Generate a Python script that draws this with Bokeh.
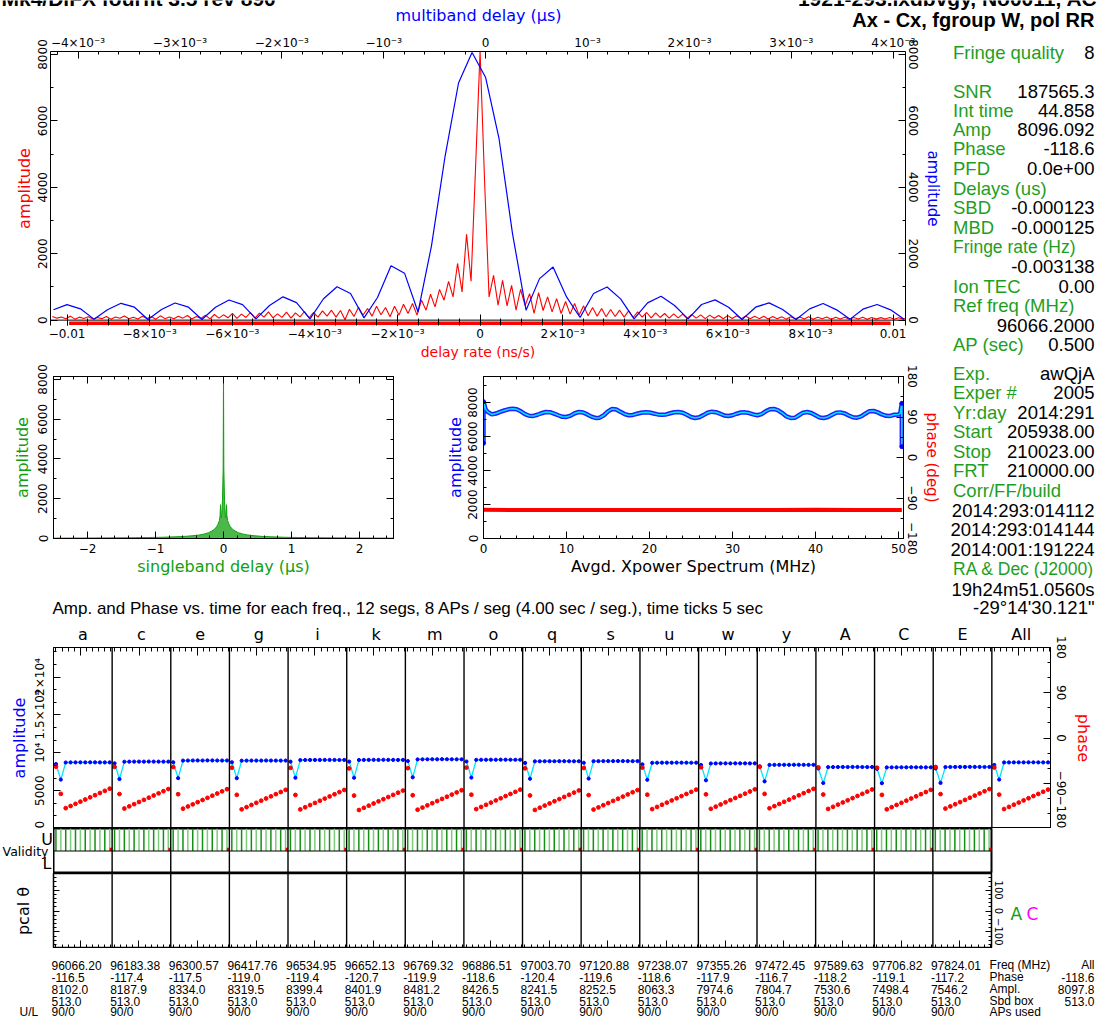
import math
from bokeh.plotting import figure
from bokeh.models import Range1d, LinearAxis, FixedTicker, Span
from bokeh.core.properties import value
from bokeh.layouts import column, row
from bokeh.embed import file_html
from bokeh.resources import INLINE

# ======================= DATA =======================
title_left = "Mk4/DiFX fourfit 3.5 rev 890"
title_right = "1921-293.ixdbvgy, No0011, AC"
title_baseline = "Ax - Cx, fgroup W, pol RR"

# multiband delay function (blue), 64-point grid
mbd_start = -0.004241
mbd_step = 0.0001325
mbd_amp = [312, 468, 341, 30, 312, 507, 390, 20, 322, 517, 390, 20, 390, 605, 468, 40,
           440, 702, 527, 40, 644, 1005, 800, 68, 683, 1640, 1415, 244, 2244, 4927, 7141, 8060,
           7317, 5463, 2600, 300, 1250, 1600, 700, 80, 800, 1000, 640, 40, 520, 720, 440, 40,
           470, 610, 390, 20, 390, 520, 320, 20, 340, 500, 310, 30, 340, 470, 310, 30]

# delay-rate function (red)
rate_step = 0.000109
rate_amp_far_left = [110, 60, 95, 40, 120, 30, 90, 50, 105, 35, 80, 45, 110, 30, 95, 55, 125, 40,
                     90, 35, 115, 50, 100, 30, 130, 45, 95, 40, 120, 60, 140, 35, 110, 50, 150, 40]
rate_amp_mid_left = [170, 60, 160, 70, 200, 55, 180, 80, 230, 60, 210, 90, 250, 70, 190, 85,
                     240, 60, 220, 100, 260, 70, 230, 90]
rate_amp_near_left = [280, 120, 300, 90, 290, 10, 330, 110, 390, 150, 350, 120, 420, 160, 380, 100]
rate_amp_close_left = [420, 150, 480, 200, 500, 150, 600, 300, 780, 400, 927, 600, 1170, 700,
                       1707, 850, 2585, 1170, 4600]
rate_amp_peak = 8096
rate_amp_right_1 = [4200, 700, 1350, 450, 1200, 430, 1050, 300, 930, 440, 800, 200, 830, 290,
                    700, 250, 650, 200, 560, 180]
rate_amp_right_2 = [500, 150, 430, 130, 380, 120, 350, 100, 320, 110, 300, 90, 280, 80, 250, 90,
                    230, 70, 220, 80]
rate_amp_right_3 = [200, 60, 190, 70, 180, 50, 170, 60, 160, 45, 150, 55, 140, 40, 135, 50,
                    130, 45, 125, 40]
rate_amp_right_4 = [120, 45, 115, 35, 110, 40, 105, 30, 100, 40, 95, 35, 100, 30, 90, 40, 95,
                    30, 85, 35]
rate_amp_right_5 = [90, 30, 80, 35, 85, 25, 80, 30, 75, 35, 80, 25, 70, 30, 60]
rate_window = [-0.00995, 0.00994]

# singleband delay function (green)
sbd_delay = [-2.5, -2.2, -1.9, -1.6, -1.3, -1.1, -0.9, -0.7, -0.55, -0.45, -0.35, -0.28, -0.22,
             -0.17, -0.13, -0.10, -0.08, -0.06, -0.05, -0.044, -0.035, -0.025, -0.015, -0.005,
             0.0, 0.005, 0.015, 0.025, 0.035, 0.044, 0.05, 0.06, 0.08, 0.10, 0.13, 0.17, 0.22,
             0.28, 0.35, 0.45, 0.55, 0.7, 0.9, 1.1, 1.3, 1.6, 1.9, 2.2, 2.5]
sbd_amp = [18, 22, 26, 32, 40, 50, 62, 85, 110, 140, 180, 230, 290, 380, 470, 600, 720, 900,
           1150, 1700, 1050, 1200, 1900, 3500, 8096, 3500, 1900, 1200, 1050, 1700, 1150, 900,
           720, 600, 470, 380, 290, 230, 180, 140, 110, 85, 62, 50, 40, 32, 26, 22, 18]

# averaged cross-power spectrum
xp_edge_lo_freq = [0.0, 0.0, 0.25]
xp_edge_lo_amp = [5600, 8050, 7600]
xp_step = 0.5
xp_amp = [7450, 7300, 7350, 7450, 7530, 7600, 7630, 7600, 7480, 7320,
          7220, 7210, 7280, 7370, 7440, 7430, 7350, 7250, 7160, 7150,
          7230, 7370, 7440, 7410, 7300, 7170, 7090, 7110, 7250, 7480,
          7620, 7590, 7450, 7320, 7250, 7270, 7340, 7400, 7430, 7410,
          7350, 7300, 7280, 7300, 7370, 7430, 7440, 7400, 7280, 7150,
          7090, 7130, 7260, 7400, 7460, 7430, 7340, 7240, 7210, 7250,
          7340, 7410, 7420, 7380, 7300, 7250, 7320, 7480, 7600, 7620,
          7540, 7380, 7180, 7090, 7100, 7250, 7400, 7440, 7380, 7250,
          7120, 7090, 7150, 7280, 7400, 7420, 7360, 7240, 7130, 7110,
          7180, 7340, 7490, 7500, 7420, 7300, 7220, 7210, 7280, 7300]
xp_edge_hi_freq = [50.2, 50.4, 50.4]
xp_edge_hi_amp = [7350, 7950, 5400]
xp_phase_freq = [0, 5, 10, 15, 20, 25, 30, 35, 40, 45, 50.4]
xp_phase = [-116.3, -116.6, -116.4, -116.5, -116.7, -116.4, -116.5, -116.6, -116.3, -116.5, -116.4]

# per-channel amplitude / phase vs time
chan_labels = ["a", "c", "e", "g", "i", "k", "m", "o", "q", "s", "u", "w", "y", "A", "C", "E", "All"]
seg_time = [2, 6, 10, 14, 18, 22, 26, 30, 34, 38, 42, 46]
chan_span = 48
minute_tick = 22
seg_amp = [
    [8510, 6460, 8715, 8725, 8730, 8735, 8730, 8740, 8735, 8730, 8725, 8730],
    [8610, 6530, 8815, 8825, 8830, 8835, 8830, 8840, 8835, 8830, 8825, 8830],
    [8750, 6650, 8965, 8975, 8980, 8985, 8980, 8990, 8985, 8980, 8975, 8980],
    [8745, 6640, 8955, 8965, 8970, 8975, 8970, 8980, 8975, 8970, 8965, 8970],
    [8825, 6700, 9035, 9045, 9050, 9055, 9050, 9060, 9055, 9050, 9045, 9050],
    [8835, 6700, 9045, 9055, 9060, 9065, 9060, 9070, 9065, 9060, 9055, 9060],
    [8910, 6760, 9125, 9135, 9140, 9145, 9140, 9150, 9145, 9140, 9135, 9140],
    [8850, 6720, 9065, 9075, 9080, 9085, 9080, 9090, 9085, 9080, 9075, 9080],
    [8660, 6570, 8865, 8875, 8880, 8885, 8880, 8890, 8885, 8880, 8875, 8880],
    [8680, 6590, 8885, 8895, 8900, 8905, 8900, 8910, 8905, 8900, 8895, 8900],
    [8470, 6430, 8675, 8685, 8690, 8695, 8690, 8700, 8695, 8690, 8685, 8690],
    [8385, 6360, 8585, 8595, 8600, 8605, 8600, 8610, 8605, 8600, 8595, 8600],
    [8200, 6220, 8395, 8405, 8410, 8415, 8410, 8420, 8415, 8410, 8405, 8410],
    [7920, 6010, 8105, 8115, 8120, 8125, 8120, 8130, 8125, 8120, 8115, 8120],
    [7880, 5980, 8065, 8075, 8080, 8085, 8080, 8090, 8085, 8080, 8075, 8080],
    [7930, 6020, 8115, 8125, 8130, 8135, 8130, 8140, 8135, 8130, 8125, 8130],
    [8390, 6460, 8720, 8725, 8730, 8735, 8730, 8740, 8735, 8730, 8725, 8730],
]
seg_phase = [
    [-57.0, -111.0, -139.5, -135.2, -130.9, -126.6, -122.3, -118.0, -113.7, -109.4, -105.1, -100.8],
    [-57.5, -111.5, -140.2, -135.9, -131.6, -127.3, -123.0, -118.7, -114.4, -110.1, -105.8, -101.5],
    [-57.8, -111.8, -140.5, -136.2, -131.9, -127.6, -123.3, -119.0, -114.7, -110.4, -106.1, -101.8],
    [-59.0, -113.0, -141.8, -137.5, -133.2, -128.9, -124.6, -120.3, -116.0, -111.7, -107.4, -103.1],
    [-59.4, -113.3, -142.0, -137.7, -133.4, -129.1, -124.8, -120.5, -116.2, -111.9, -107.6, -103.3],
    [-60.5, -114.5, -143.2, -138.9, -134.6, -130.3, -126.0, -121.7, -117.4, -113.1, -108.8, -104.5],
    [-60.0, -113.9, -142.6, -138.3, -134.0, -129.7, -125.4, -121.1, -116.8, -112.5, -108.2, -103.9],
    [-58.8, -112.7, -141.4, -137.1, -132.8, -128.5, -124.2, -119.9, -115.6, -111.3, -107.0, -102.7],
    [-60.3, -114.3, -143.0, -138.7, -134.4, -130.1, -125.8, -121.5, -117.2, -112.9, -108.6, -104.3],
    [-59.7, -113.6, -142.3, -138.0, -133.7, -129.4, -125.1, -120.8, -116.5, -112.2, -107.9, -103.6],
    [-58.8, -112.7, -141.4, -137.1, -132.8, -128.5, -124.2, -119.9, -115.6, -111.3, -107.0, -102.7],
    [-58.2, -112.1, -140.8, -136.5, -132.2, -127.9, -123.6, -119.3, -115.0, -110.7, -106.4, -102.1],
    [-57.2, -111.1, -139.8, -135.5, -131.2, -126.9, -122.6, -118.3, -114.0, -109.7, -105.4, -101.1],
    [-58.4, -112.4, -141.1, -136.8, -132.5, -128.2, -123.9, -119.6, -115.3, -111.0, -106.7, -102.4],
    [-59.2, -113.1, -141.8, -137.5, -133.2, -128.9, -124.6, -120.3, -116.0, -111.7, -107.4, -103.1],
    [-57.7, -111.6, -140.3, -136.0, -131.7, -127.4, -123.1, -118.8, -114.5, -110.2, -105.9, -101.6],
    [-58.6, -112.6, -141.3, -137.0, -132.7, -128.4, -124.1, -119.8, -115.5, -111.2, -106.9, -102.6],
]

# summary table
freq_mhz = [96066.20, 96183.38, 96300.57, 96417.76, 96534.95, 96652.13, 96769.32, 96886.51,
            97003.70, 97120.88, 97238.07, 97355.26, 97472.45, 97589.63, 97706.82, 97824.01]
tab_phase = [-116.5, -117.4, -117.5, -119.0, -119.4, -120.7, -119.9, -118.6,
             -120.4, -119.6, -118.6, -117.9, -116.7, -118.2, -119.1, -117.2]
tab_amp = [8102.0, 8187.9, 8334.0, 8319.5, 8399.4, 8401.9, 8481.2, 8426.5,
           8241.5, 8252.5, 8063.3, 7974.6, 7804.7, 7530.6, 7498.4, 7546.2]
tab_sbd_box = ["513.0"] * 16
tab_aps = ["90/0"] * 16
tab_row_names = ["Freq (MHz)", "Phase", "Ampl.", "Sbd box", "APs used"]
tab_all = ["All", "-118.6", "8097.8", "513.0", ""]

# fringe summary text
stat_lines = [
    ("Fringe quality", "8"), ("SNR", "187565.3"), ("Int time", "44.858"), ("Amp", "8096.092"),
    ("Phase", "-118.6"), ("PFD", "0.0e+00"), ("Delays (us)", ""), ("SBD", "-0.000123"),
    ("MBD", "-0.000125"), ("Fringe rate (Hz)", ""), ("", "-0.003138"), ("Ion TEC", "0.00"),
    ("Ref freq (MHz)", ""), ("", "96066.2000"), ("AP (sec)", "0.500"), ("Exp.", "awQjA"),
    ("Exper #", "2005"), ("Yr:day", "2014:291"), ("Start", "205938.00"), ("Stop", "210023.00"),
    ("FRT", "210000.00"), ("Corr/FF/build", ""), ("", "2014:293:014112"), ("", "2014:293:014144"),
    ("", "2014:001:191224"), ("RA & Dec (J2000)", ""), ("", "19h24m51.0560s"),
    ("", "-29\u00b014'30.121\""),
]
chan_title = "Amp. and Phase vs. time for each freq., 12 segs, 8 APs / seg (4.00 sec / seg.), time ticks 5 sec"

# ======================= STYLE / LAYOUT =======================
RED = "#ff0000"
BLUE = "#0000ff"
GREEN = "#1e9e1e"
SBDGREEN = "#10a010"
CYAN = "#00e5ff"
MAG = "#ff00ff"
AXF = "DejaVu Sans"
TXF = "Liberation Sans"
RIGHT_X = 1094
stat_y = [51.5, 90.7, 109.5, 129, 148.3, 168, 187.5, 207, 226.7, 246.5, 266, 285.5, 305, 324.5,
          343.5, 373, 392.3, 411.7, 431, 450.7, 470, 489.7, 509.5, 529, 548.7, 568, 589, 606.5]


def make(frame, top, bottom, left, right, xr, yr):
    fl, ft, fr, fb = frame
    p = figure(width=right - left, height=bottom - top, x_range=xr, y_range=yr,
               output_backend="svg", toolbar_location=None, title=None,
               x_axis_location=None, y_axis_location=None,
               min_border_left=fl - left, min_border_right=right - fr,
               min_border_top=ft - top, min_border_bottom=bottom - fb)
    p.frame_align = False
    p.outline_line_color = "black"
    p.outline_line_width = 1
    p.background_fill_color = "white"
    p.border_fill_color = "white"
    p.xgrid.visible = False
    p.ygrid.visible = False
    return p


def text_fig(left, top, right, bottom):
    p = make((left, top, right, bottom), top, bottom, left, right,
             Range1d(left, right), Range1d(bottom, top))
    p.outline_line_color = None
    return p


def txt(p, xs, ys, texts, color="black", size="18.5px", font=TXF, align="left", style="normal"):
    p.text(x=list(xs), y=list(ys), text=list(texts), text_color=color, text_font=value(font),
           text_font_size=size, text_align=align, text_baseline="middle", text_font_style=style)


def axis(ticks, minor=(), labels=None, range_name=None, vertical=False, size="12px",
         rotate=False, standoff=3, title=None, title_color="black", title_size="16px",
         title_standoff=3, tick_in=7, minor_in=3, line=True):
    kw = {}
    if range_name:
        kw["y_range_name" if vertical else "x_range_name"] = range_name
    ax = LinearAxis(ticker=FixedTicker(ticks=list(ticks), minor_ticks=list(minor)), **kw)
    if labels is not None:
        ax.major_label_overrides = {t: s for t, s in zip(ticks, labels)}
    ax.major_tick_in = tick_in
    ax.major_tick_out = 0
    ax.minor_tick_in = minor_in
    ax.minor_tick_out = 0
    ax.major_tick_line_color = "black"
    ax.minor_tick_line_color = "black"
    ax.axis_line_color = "black" if line else None
    ax.major_label_text_font = AXF
    ax.major_label_text_color = "black"
    ax.major_label_text_font_size = size
    ax.major_label_standoff = standoff
    if rotate:
        ax.major_label_orientation = "vertical"
    if title:
        ax.axis_label = title
        ax.axis_label_text_color = title_color
        ax.axis_label_text_font = AXF
        ax.axis_label_text_font_style = "normal"
        ax.axis_label_text_font_size = title_size
        ax.axis_label_standoff = title_standoff
    return ax


def tick_axes(p, side, major, minor, major_len=7, minor_len=3, range_name=None,
              title=None, title_standoff=3):
    """Unlabelled frame ticks: two label-free axes (long and short ticks)."""
    vertical = side in ("left", "right")
    long_ax = axis([], major, range_name=range_name, vertical=vertical, standoff=0,
                   tick_in=0, minor_in=major_len)
    p.add_layout(long_ax, side)
    short_ax = axis([], minor, range_name=range_name, vertical=vertical, standoff=0,
                    tick_in=0, minor_in=minor_len, line=False, title=title,
                    title_standoff=title_standoff)
    p.add_layout(short_ax, side)


L_PAGE, R_PAGE = 0, 1098
MID_R = 945

# ---------------- header ----------------
H_top, H_bot = 0, 32
pH = text_fig(L_PAGE, H_top, R_PAGE, H_bot)
txt(pH, [1], [-2], [title_left], size="21px", style="bold")
txt(pH, [1097], [-2], [title_right], size="21px", style="bold", align="right")
txt(pH, [RIGHT_X], [19.5], [title_baseline], size="20px", style="bold", align="right")
txt(pH, [478], [15], ["multiband delay (\u03bcs)"], color=BLUE, size="16px", font=AXF, align="center")

# ---------------- top panel: delay-rate & multiband delay ----------------
T_F = (50, 49, 905, 330)
T_bot = 362
t_zero_px = 324.5
t_ylo = -8090 * (T_F[3] - t_zero_px) / (t_zero_px - T_F[1])
t_win_y = -8090 * (327.8 - t_zero_px) / (t_zero_px - T_F[1])
pT = make(T_F, H_bot, T_bot, L_PAGE, MID_R, Range1d(-0.0104, 0.0103), Range1d(t_ylo, 8090))
pT.extra_x_ranges = {"mbd": Range1d(-0.00427, 0.00412)}
pT.outline_line_color = None

rate_ticks = [-0.01, -0.008, -0.006, -0.004, -0.002, 0.0, 0.002, 0.004, 0.006, 0.008, 0.01]
rate_tlab = ["\u22120.01", "\u22128\u00d710\u207b\u00b3", "\u22126\u00d710\u207b\u00b3",
             "\u22124\u00d710\u207b\u00b3", "\u22122\u00d710\u207b\u00b3", "0",
             "2\u00d710\u207b\u00b3", "4\u00d710\u207b\u00b3", "6\u00d710\u207b\u00b3",
             "8\u00d710\u207b\u00b3", "0.01"]
rate_minor = [round(-0.01 + 0.0005 * i, 6) for i in range(41)]
pT.add_layout(axis(rate_ticks, rate_minor, rate_tlab, standoff=1, title="delay rate (ns/s)",
                   title_color=RED, title_size="14px", title_standoff=0, tick_in=11, minor_in=7,
                   line=False), "below")
mbd_ticks = [-0.004, -0.003, -0.002, -0.001, 0.0, 0.001, 0.002, 0.003, 0.004]
mbd_tlab = ["\u22124\u00d710\u207b\u00b3", "\u22123\u00d710\u207b\u00b3", "\u22122\u00d710\u207b\u00b3",
            "\u221210\u207b\u00b3", "0", "10\u207b\u00b3", "2\u00d710\u207b\u00b3",
            "3\u00d710\u207b\u00b3", "4\u00d710\u207b\u00b3"]
mbd_minor = [round(-0.0042 + 0.0002 * i, 6) for i in range(42)]
pT.add_layout(axis(mbd_ticks, mbd_minor, mbd_tlab, range_name="mbd", standoff=2), "above")
amp_ticks = [0, 2000, 4000, 6000, 8000]
amp_tlab = ["0", "2000", "4000", "6000", "8000"]
amp_minor = [1000, 3000, 5000, 7000]
pT.add_layout(axis(amp_ticks, amp_minor, amp_tlab, vertical=True, rotate=True,
                   standoff=3, title="amplitude", title_color=RED, title_standoff=2), "left")
pT.add_layout(axis(amp_ticks, amp_minor, amp_tlab, vertical=True, rotate=True,
                   standoff=3, title="amplitude", title_color=BLUE, title_size="15px",
                   title_standoff=3), "right")
pT.add_layout(Span(location=0, dimension="width", line_color="black", line_width=1))

mbd_x = [mbd_start + i * mbd_step for i in range(len(mbd_amp))]
rate_left = rate_amp_far_left + rate_amp_mid_left + rate_amp_near_left + rate_amp_close_left
rate_right = rate_amp_right_1 + rate_amp_right_2 + rate_amp_right_3 + rate_amp_right_4 + rate_amp_right_5
rate_amp = rate_left + [rate_amp_peak] + rate_right
rate_x = [(i - len(rate_left)) * rate_step for i in range(len(rate_amp))]
pT.line(rate_x, rate_amp, line_color=RED, line_width=1.1)
pT.line(mbd_x, mbd_amp, x_range_name="mbd", line_color=BLUE, line_width=1.2)
pT.line(rate_window, [t_win_y, t_win_y], line_color=RED, line_width=3.5)

# ---------------- middle left: singleband delay ----------------
R2_bot = 578
S_F = (53, 376, 393, 538)
pS = make(S_F, T_bot, R2_bot, L_PAGE, 440, Range1d(-2.5, 2.5), Range1d(0, 8146))
sbd_ticks = [-2, -1, 0, 1, 2]
sbd_minor = [round(-2.4 + 0.2 * i, 2) for i in range(25)]
pS.add_layout(axis(sbd_ticks, sbd_minor, ["\u22122", "\u22121", "0", "1", "2"], standoff=5,
                   title="singleband delay (\u03bcs)", title_color=SBDGREEN, title_standoff=1), "below")
tick_axes(pS, "above", sbd_ticks, sbd_minor)
pS.add_layout(axis(amp_ticks, amp_minor, amp_tlab, vertical=True, rotate=True,
                   standoff=6, title="amplitude", title_color=SBDGREEN, title_standoff=4), "left")
tick_axes(pS, "right", amp_ticks, amp_minor)
pS.varea(x=sbd_delay, y1=[0] * len(sbd_amp), y2=sbd_amp, fill_color=SBDGREEN, fill_alpha=0.75)
pS.line(sbd_delay, sbd_amp, line_color=SBDGREEN, line_width=1)

# ---------------- middle right: cross-power spectrum ----------------
X_F = (483, 376, 903, 538)
pX = make(X_F, T_bot, R2_bot, 440, MID_R, Range1d(0, 50.6), Range1d(0, 9530))
pX.extra_y_ranges = {"ph": Range1d(-180, 180)}
xp_ticks = [0, 10, 20, 30, 40, 50]
xp_minor = list(range(0, 51, 2))
pX.add_layout(axis(xp_ticks, xp_minor, ["0", "10", "20", "30", "40", "50"], standoff=5,
                   title="Avgd. Xpower Spectrum (MHz)", title_standoff=1), "below")
tick_axes(pX, "above", xp_ticks, xp_minor)
pX.add_layout(axis(amp_ticks, amp_minor + [9000], amp_tlab, vertical=True, rotate=True,
                   standoff=6, title="amplitude", title_color=BLUE, title_standoff=1), "left")
ph_ticks = [-180, -90, 0, 90, 180]
ph_tlab = ["\u2212180", "\u221290", "0", "90", "180"]
pX.add_layout(axis(ph_ticks, [-135, -45, 45, 135], ph_tlab, range_name="ph", vertical=True,
                   rotate=True, standoff=4, title="phase (deg)", title_color=RED,
                   title_size="15px", title_standoff=3), "right")
xp_f = xp_edge_lo_freq + [xp_step * (i + 1) for i in range(len(xp_amp))] + xp_edge_hi_freq
xp_a = xp_edge_lo_amp + xp_amp + xp_edge_hi_amp
pX.line(xp_f, xp_a, line_color="#2020ff", line_width=4.5)
pX.line(xp_f, xp_a, line_color=CYAN, line_width=1.5)
pX.scatter(xp_edge_lo_freq[:2] + xp_edge_hi_freq[1:], xp_edge_lo_amp[:2] + xp_edge_hi_amp[1:],
           size=4, color=BLUE)
pX.line(xp_phase_freq, xp_phase, y_range_name="ph", line_color=RED, line_width=4)

# ---------------- stats column ----------------
pR = text_fig(MID_R, H_bot, R_PAGE, R2_bot)
pH2_top, H2_bot = R2_bot, 621
pH2 = text_fig(L_PAGE, pH2_top, R_PAGE, H2_bot)
for (name, val), yy in zip(stat_lines, stat_y):
    target = pR if yy < R2_bot else pH2
    if name:
        txt(target, [952.5], [yy], [name], color=GREEN, size="17.5px" if len(name) > 14 else "18.5px")
    if val:
        txt(target, [RIGHT_X], [yy], [val], align="right")
txt(pH2, [52], [607.5], [chan_title], size="17px")

# ---------------- channel amp/phase panel ----------------
n_ch = len(chan_labels)
C1_F = (53, 644, 1050, 828)
pC1 = make(C1_F, H2_bot, C1_F[3], L_PAGE, R_PAGE, Range1d(0, chan_span * n_ch), Range1d(0, 23900))
pC1.extra_y_ranges = {"ph": Range1d(-180, 180)}
time_major = [chan_span * k + minute_tick for k in range(n_ch)]
time_minor = [chan_span * k + 2 + 5 * j for k in range(n_ch) for j in range(10)]
tick_axes(pC1, "above", time_major, time_minor, major_len=8, minor_len=4)
pC1.add_layout(axis([chan_span * k + chan_span / 2 for k in range(n_ch)], [], chan_labels,
                    size="16px", standoff=4, tick_in=0, minor_in=0, line=False), "above")
c_amp_ticks = [0, 5000, 10000, 15000, 20000]
c_amp_lab = ["0", "5000", "10\u2074", "1.5\u00d710\u2074", "2\u00d710\u2074"]
c_amp_minor = [round(5000 * k / 3) for k in range(15)]
pC1.add_layout(axis(c_amp_ticks, c_amp_minor, c_amp_lab, vertical=True, rotate=True, standoff=6,
                    title="amplitude", title_color=BLUE, title_standoff=2), "left")
pC1.add_layout(axis(ph_ticks, [-150, -120, -60, -30, 30, 60, 120, 150], ph_tlab, range_name="ph",
                    vertical=True, rotate=True, standoff=6, title="phase", title_color=RED,
                    title_standoff=5), "right")
seg_xs = [[chan_span * k + t for t in seg_time] for k in range(n_ch)]
pC1.multi_line(seg_xs, seg_amp, line_color=CYAN, line_width=1.3)
flat_x = [x for xs in seg_xs for x in xs]
flat_amp = [a for row_ in seg_amp for a in row_]
flat_ph = [a for row_ in seg_phase for a in row_]
pC1.scatter(flat_x, flat_amp, size=3.2, color=BLUE)
pC1.scatter(flat_x, flat_ph, y_range_name="ph", size=3.8, color=RED)
for k in range(1, n_ch):
    pC1.add_layout(Span(location=chan_span * k, dimension="height", line_color="black", line_width=1.4))

# ---------------- validity ----------------
n_val = n_ch - 1
C2_F = (53, 828, 991, 873)
pV = text_fig(L_PAGE, C2_F[1], C2_F[0], C2_F[3])
txt(pV, [46.5, 46.5], [838.5, 862.5], ["U", "L"], size="16px", font=AXF, align="center")
txt(pV, [48], [851], ["Validity"], size="12.5px", font=AXF, align="right")
pC2 = make(C2_F, C2_F[1], C2_F[3], C2_F[0], R_PAGE, Range1d(0, chan_span * n_val), Range1d(0, 2))
pC2.outline_line_width = 2
val_x = [chan_span * k + t for k in range(n_val) for t in seg_time]
val_col = ["#139013" if (j % 2 == 0) else "#7ccc7c" for k in range(n_val) for j in range(len(seg_time))]
pC2.segment(x0=val_x, y0=[1] * len(val_x), x1=val_x, y1=[2] * len(val_x), line_color=val_col, line_width=1.5)
flag_x = [chan_span * k + 47 for k in range(n_val)]
pC2.segment(x0=flag_x, y0=[1] * n_val, x1=flag_x, y1=[1.14] * n_val, line_color=RED, line_width=2.5)
pC2.add_layout(Span(location=1, dimension="width", line_color="black", line_width=1.2))
for k in range(1, n_val):
    pC2.add_layout(Span(location=chan_span * k, dimension="height", line_color="black", line_width=1.4))

# ---------------- pcal ----------------
C3_F = (53, 873, 991, 948)
C3_R = 1008
pC3 = make(C3_F, C3_F[1], C3_F[3], L_PAGE, C3_R, Range1d(0, chan_span * n_val), Range1d(-180, 180))
pC3.outline_line_width = 1.5
tick_axes(pC3, "below", [chan_span * k + minute_tick for k in range(n_val)],
          [chan_span * k + 2 + 5 * j for k in range(n_val) for j in range(10)], major_len=8, minor_len=4)
pcal_minor = list(range(-160, 161, 20))
tick_axes(pC3, "left", [-100, 0, 100], pcal_minor, major_len=6, minor_len=3,
          title="pcal \u03b8", title_standoff=21)
pC3.add_layout(axis([-100, 0, 100], pcal_minor, ["\u2212100", "0", "100"], vertical=True,
                    rotate=True, size="10px", standoff=3, tick_in=6, minor_in=3), "right")
for k in range(1, n_val):
    pC3.add_layout(Span(location=chan_span * k, dimension="height", line_color="black", line_width=1.4))
pAC = text_fig(C3_R, C3_F[1], R_PAGE, C3_F[3])
txt(pAC, [1010], [913], ["A"], color="#10a010", size="17px", font=AXF)
txt(pAC, [1026], [913], ["C"], color=MAG, size="17px", font=AXF)

# ---------------- table ----------------
TB_bot = 1020
pTB = text_fig(L_PAGE, C3_F[3], R_PAGE, TB_bot)
tab_x0, tab_dx = 51, 58.63
tab_y = [964.5, 976.5, 988.5, 1000.5, 1011.5]
tab_rows = [["%.2f" % f for f in freq_mhz], ["%.1f" % v for v in tab_phase],
            ["%.1f" % v for v in tab_amp], tab_sbd_box, tab_aps]
for r, (vals, yy) in enumerate(zip(tab_rows, tab_y)):
    txt(pTB, [tab_x0 + k * tab_dx for k in range(len(vals))], [yy] * len(vals), vals, size="12px")
    txt(pTB, [tab_x0 + n_val * tab_dx], [yy], [tab_row_names[r]], size="12px")
    if tab_all[r]:
        txt(pTB, [RIGHT_X], [yy], [tab_all[r]], size="12px", align="right")
txt(pTB, [19], [tab_y[-1]], ["U/L"], size="12px")

layout = column(
    pH,
    row(column(pT, row(pS, pX)), pR),
    pH2,
    pC1,
    row(pV, pC2),
    row(pC3, pAC),
    pTB,
)
open("out.html", "w").write(file_html(layout, INLINE))
